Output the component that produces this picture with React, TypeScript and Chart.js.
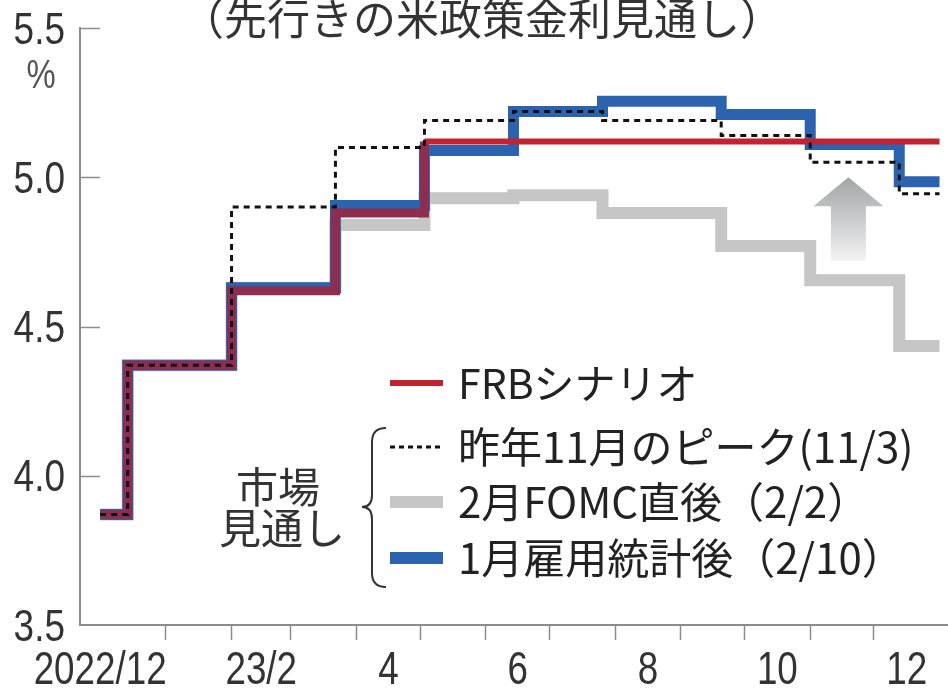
import React, { useEffect, useRef } from "react";
import { Chart, registerables } from "chart.js";

Chart.register(...registerables);

// ---------- text ----------
const chartTitle = "（先行きの米政策金利見通し）";
const yUnit = "%";
const seriesNames = ["FRBシナリオ", "昨年11月のピーク(11/3)", "2月FOMC直後（2/2）", "1月雇用統計後（2/10）"];
const bracketLabel = ["市場", "見通し"];

// ---------- data ----------
// x = days since 2022-12-01; steps at FOMC dates
// 2022/12/1, 12/14, 2023/2/1, 3/22, 5/3, 6/14, 7/26, 9/20, 11/1, 12/13, 2024/1/1
const stepDays = [0, 13, 62, 111, 153, 195, 237, 293, 335, 377, 396];
const frbRates = [3.87, 4.37, 4.62, 4.88, 5.12, 5.12, 5.12, 5.12, 5.12, 5.12, 5.12];
const peakNovRates = [3.87, 4.37, 4.9, 5.1, 5.19, 5.22, 5.19, 5.14, 5.05, 4.945, 4.945];
const febFomcRates = [3.87, 4.37, 4.63, 4.84, 4.93, 4.94, 4.88, 4.77, 4.655, 4.435, 4.435];
const janJobsRates = [3.87, 4.37, 4.63, 4.905, 5.09, 5.22, 5.255, 5.21, 5.11, 4.985, 4.985];

// x axis: month boundaries (tick marks) and label positions
const monthStartDays = [31, 62, 90, 121, 151, 182, 212, 243, 274, 304, 335, 365];
const xTickLabels = ["2022/12", "23/2", "4", "6", "8", "10", "12"];
const xTickLabelDays = [0, 76, 136, 197, 258.5, 319.5, 380.5];
const yTickValues = [3.5, 4.0, 4.5, 5.0, 5.5];

// arrow annotation (data coords)
const arrowDay = 353;
const arrowFrom = 4.72;
const arrowTo = 5.0;

// ---------- styles ----------
const RED = "#c3232f";
const MAROON = "#8d2d50";
const BLUE = "#2b63ae";
const GRAY = "#c6c6c6";
const DOT = "#111111";
const AXIS = "#8c8c8c";
const TEXT = "#333333";
const NUM_FONT = '"Liberation Sans", Arial, sans-serif';
const JP_FONT = '"Noto Sans CJK JP", "Noto Sans", sans-serif';

const toPoints = (vals: number[]) => stepDays.map((d, i) => ({ x: d, y: vals[i] }));

function narrowText(ctx: any, text: string, x: number, y: number, sx: number, align: string) {
  ctx.save();
  ctx.translate(x, y);
  ctx.scale(sx, 1);
  ctx.textAlign = align;
  ctx.textBaseline = "alphabetic";
  ctx.fillText(text, 0, 0);
  ctx.restore();
}

const decorPlugin = {
  id: "decor",
  beforeDraw(chart: any) {
    const { ctx, width, height } = chart;
    ctx.save();
    ctx.fillStyle = "#ffffff";
    ctx.fillRect(0, 0, width, height);
    ctx.restore();
  },
  beforeDatasetsDraw(chart: any) {
    const { ctx } = chart;
    const xs = chart.scales.x;
    const ys = chart.scales.y;
    const cx = xs.getPixelForValue(arrowDay);
    const yTop = ys.getPixelForValue(arrowTo);
    const yBot = ys.getPixelForValue(arrowFrom);
    const headH = 29, headW = 35, shaftW = 17.5;
    ctx.save();
    const g = ctx.createLinearGradient(0, yTop, 0, yBot);
    g.addColorStop(0, "#a2a4a6");
    g.addColorStop(1, "#f3f3f3");
    ctx.fillStyle = g;
    ctx.beginPath();
    ctx.moveTo(cx, yTop);
    ctx.lineTo(cx + headW, yTop + headH);
    ctx.lineTo(cx + shaftW, yTop + headH);
    ctx.lineTo(cx + shaftW, yBot);
    ctx.lineTo(cx - shaftW, yBot);
    ctx.lineTo(cx - shaftW, yTop + headH);
    ctx.lineTo(cx - headW, yTop + headH);
    ctx.closePath();
    ctx.fill();
    ctx.restore();
  },
  afterDraw(chart: any) {
    const { ctx, chartArea } = chart;
    const xs = chart.scales.x;
    const ys = chart.scales.y;
    ctx.save();
    // inward y tick marks
    ctx.strokeStyle = AXIS;
    ctx.lineWidth = 1.5;
    ys.ticks.forEach((t: any) => {
      if (t.value <= ys.min) return;
      const y = Math.round(ys.getPixelForValue(t.value)) + 0.5;
      ctx.beginPath();
      ctx.moveTo(chartArea.left, y);
      ctx.lineTo(chartArea.left + 20, y);
      ctx.stroke();
    });

    // y tick labels (narrow figures)
    ctx.fillStyle = TEXT;
    ctx.font = `44px ${NUM_FONT}`;
    ys.ticks.forEach((t: any) => {
      const y = ys.getPixelForValue(t.value);
      narrowText(ctx, Number(t.value).toFixed(1), chartArea.left - 15, y + 15.5, 0.84, "right");
    });
    // x tick labels
    ctx.font = `46px ${NUM_FONT}`;
    xTickLabelDays.forEach((d, i) => {
      narrowText(ctx, xTickLabels[i], xs.getPixelForValue(d), chartArea.bottom + 59, 0.8, "center");
    });

    // unit
    ctx.fillStyle = "#555";
    ctx.font = `40px ${NUM_FONT}`;
    narrowText(ctx, yUnit, 41, 88, 0.82, "center");

    // title
    ctx.fillStyle = TEXT;
    ctx.textAlign = "center";
    ctx.textBaseline = "middle";
    ctx.font = `43px ${JP_FONT}`;
    ctx.fillText(chartTitle, 482, 19);

    // legend
    const sx0 = 390, sx1 = 443, tx = 458;
    const rows = [383, 447, 502, 558];
    ctx.lineCap = "butt";
    ctx.strokeStyle = RED;
    ctx.lineWidth = 6;
    ctx.beginPath(); ctx.moveTo(sx0, rows[0]); ctx.lineTo(sx1, rows[0]); ctx.stroke();
    ctx.strokeStyle = DOT;
    ctx.lineWidth = 3;
    ctx.setLineDash([5, 4]);
    ctx.beginPath(); ctx.moveTo(sx0, rows[1]); ctx.lineTo(sx1, rows[1]); ctx.stroke();
    ctx.setLineDash([]);
    ctx.strokeStyle = GRAY;
    ctx.lineWidth = 12;
    ctx.beginPath(); ctx.moveTo(sx0, rows[2]); ctx.lineTo(sx1, rows[2]); ctx.stroke();
    ctx.strokeStyle = BLUE;
    ctx.lineWidth = 12;
    ctx.beginPath(); ctx.moveTo(sx0, rows[3]); ctx.lineTo(sx1, rows[3]); ctx.stroke();

    ctx.fillStyle = "#222";
    ctx.textAlign = "left";
    ctx.textBaseline = "middle";
    ctx.font = `41px ${JP_FONT}`;
    ctx.fillText(seriesNames[0], tx, rows[0]);
    ctx.font = `42px ${JP_FONT}`;
    ctx.fillText(seriesNames[1], tx, rows[1]);
    ctx.fillText(seriesNames[2], tx, rows[2]);
    ctx.fillText(seriesNames[3], tx, rows[3]);

    // brace
    ctx.strokeStyle = "#333";
    ctx.lineWidth = 2;
    const bx = 372, top = 428, bot = 587, mid = 507;
    ctx.beginPath();
    ctx.moveTo(bx + 14, top);
    ctx.quadraticCurveTo(bx, top, bx, top + 14);
    ctx.lineTo(bx, mid - 12);
    ctx.quadraticCurveTo(bx, mid, bx - 10, mid);
    ctx.quadraticCurveTo(bx, mid, bx, mid + 12);
    ctx.lineTo(bx, bot - 14);
    ctx.quadraticCurveTo(bx, bot, bx + 14, bot);
    ctx.stroke();

    ctx.fillStyle = TEXT;
    ctx.textAlign = "center";
    ctx.font = `42px ${JP_FONT}`;
    ctx.fillText(bracketLabel[0], 278, 487);
    ctx.fillText(bracketLabel[1], 282, 528);
    ctx.restore();
  },
};

export default function App() {
  const ref = useRef<HTMLCanvasElement | null>(null);

  useEffect(() => {
    document.body.style.margin = "0";
    const canvas = ref.current;
    if (!canvas) return;

    const chart = new Chart(canvas, {
      type: "line",
      data: {
        datasets: [
          {
            label: seriesNames[1],
            data: toPoints(peakNovRates),
            borderColor: DOT,
            borderWidth: 3,
            borderDash: [6, 5],
            stepped: "before",
            pointRadius: 0,
            fill: false,
            borderJoinStyle: "miter",
          },
          {
            label: seriesNames[0],
            data: toPoints(frbRates),
            borderColor: RED,
            borderWidth: 8,
            stepped: "before",
            pointRadius: 0,
            fill: false,
            borderJoinStyle: "miter",
            segment: {
              borderColor: (c: any) => (c.p0.parsed.x < 153 ? MAROON : RED),
              borderWidth: (c: any) => (c.p0.parsed.x < 153 ? 9 : 6),
            },
          },
          {
            label: seriesNames[3],
            data: toPoints(janJobsRates),
            borderColor: BLUE,
            borderWidth: 11,
            stepped: "before",
            pointRadius: 0,
            fill: false,
            borderJoinStyle: "miter",
          },
          {
            label: seriesNames[2],
            data: toPoints(febFomcRates),
            borderColor: GRAY,
            borderWidth: 12,
            stepped: "before",
            pointRadius: 0,
            fill: false,
            borderJoinStyle: "miter",
          },
        ],
      },
      options: {
        responsive: false,
        maintainAspectRatio: false,
        animation: false,
        devicePixelRatio: 1,
        layout: { padding: { top: 28, right: 0, left: 0, bottom: 0 } },
        plugins: { legend: { display: false }, tooltip: { enabled: false }, title: { display: false } },
        scales: {
          x: {
            type: "linear",
            min: -9.5,
            max: 400,
            position: "bottom",
            border: { display: true, color: AXIS, width: 2 },
            grid: {
              drawOnChartArea: false,
              drawTicks: true,
              tickLength: 15,
              tickWidth: 1.5,
              tickColor: AXIS,
            },
            afterBuildTicks: (scale: any) => {
              scale.ticks = monthStartDays.map((v) => ({ value: v }));
            },
            afterFit: (scale: any) => {
              scale.height = 66;
            },
            ticks: { display: false },
          },
          y: {
            type: "linear",
            min: 3.5,
            max: 5.5,
            position: "left",
            border: { display: true, color: AXIS, width: 2 },
            grid: { drawOnChartArea: false, drawTicks: false },
            afterBuildTicks: (scale: any) => {
              scale.ticks = yTickValues.map((v) => ({ value: v }));
            },
            afterFit: (scale: any) => {
              scale.width = 80;
            },
            ticks: { display: false },
          },
        },
      },
      plugins: [decorPlugin],
    } as any);

    return () => chart.destroy();
  }, []);

  return (
    <div style={{ width: 948, height: 691 }}>
      <canvas ref={ref} width={948} height={691} style={{ display: "block" }} />
    </div>
  );
}
